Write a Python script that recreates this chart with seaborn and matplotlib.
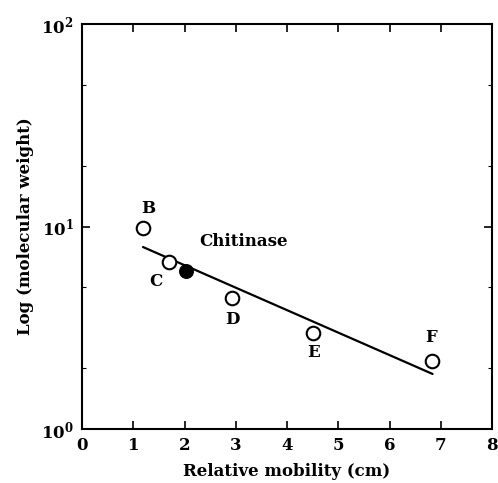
import matplotlib
matplotlib.use("Agg")
import matplotlib.pyplot as plt
from matplotlib.ticker import LogLocator, NullFormatter, MultipleLocator
import seaborn as sns
import pandas as pd

# Marker proteins (open circles) and chitinase (filled circle)
std_labels = ["B", "C", "D", "E", "F"]
std_mobility = [1.19, 1.70, 2.93, 4.51, 6.82]
std_mw = [9.8, 6.7, 4.43, 2.98, 2.17]

chit_mobility = [2.03]
chit_mw = [6.03]

# Fitted calibration line end points
fit_mobility = [1.19, 6.84]
fit_mw = [7.92, 1.87]

# Label offsets in data units (mobility, factor on mw)
label_dx = [0.10, -0.25, 0.0, 0.0, 0.0]
label_fy = [1.25, 0.80, 0.78, 0.80, 1.30]

sns.set_style("ticks")
plt.rcParams["font.family"] = ["DejaVu Serif"]
plt.rcParams["text.color"] = "black"
plt.rcParams["axes.labelcolor"] = "black"
plt.rcParams["xtick.color"] = "black"
plt.rcParams["ytick.color"] = "black"
plt.rcParams["mathtext.default"] = "bf"

fig = plt.figure(figsize=(4.98, 4.83), dpi=100)
ax = fig.add_axes([82 / 498, 1 - 429 / 483, (492 - 82) / 498, (429 - 24) / 483])

std_df = pd.DataFrame({"mobility": std_mobility, "mw": std_mw})
chit_df = pd.DataFrame({"mobility": chit_mobility, "mw": chit_mw})
fit_df = pd.DataFrame({"mobility": fit_mobility, "mw": fit_mw})

sns.lineplot(data=fit_df, x="mobility", y="mw", color="black", lw=1.6, ax=ax)
sns.scatterplot(data=std_df, x="mobility", y="mw", marker="o", s=95,
                facecolor="white", edgecolor="black", linewidth=1.5, ax=ax, zorder=3)
sns.scatterplot(data=chit_df, x="mobility", y="mw", marker="o", s=95,
                color="black", edgecolor="black", linewidth=1.0, ax=ax, zorder=3)

for lab, x, y, dx, fy in zip(std_labels, std_mobility, std_mw, label_dx, label_fy):
    ax.text(x + dx, y * fy, lab, ha="center", va="center",
            fontsize=12, fontweight="bold")
ax.text(2.28, 8.45, "Chitinase", ha="left", va="center", fontsize=12, fontweight="bold")

ax.set_yscale("log")
ax.set_xlim(0, 8)
ax.set_ylim(1, 100)
ax.xaxis.set_major_locator(MultipleLocator(1))
ax.yaxis.set_major_locator(LogLocator(base=10, numticks=5))
ax.yaxis.set_minor_locator(LogLocator(base=10, subs=[2, 5], numticks=10))
ax.yaxis.set_minor_formatter(NullFormatter())

ax.tick_params(which="both", direction="in", top=True, right=True)
ax.tick_params(which="major", length=6, width=1.2, labelsize=12, pad=6)
ax.tick_params(which="minor", length=3, width=0.8)
for lbl in ax.get_xticklabels() + ax.get_yticklabels():
    lbl.set_fontweight("bold")
for s in ax.spines.values():
    s.set_color("black")
    s.set_linewidth(1.5)

ax.set_xlabel("Relative mobility (cm)", fontsize=12, fontweight="bold", labelpad=6)
ax.set_ylabel("Log (molecular weight)", fontsize=12, fontweight="bold", labelpad=5)

fig.savefig("out.png", dpi=100, facecolor="white")
